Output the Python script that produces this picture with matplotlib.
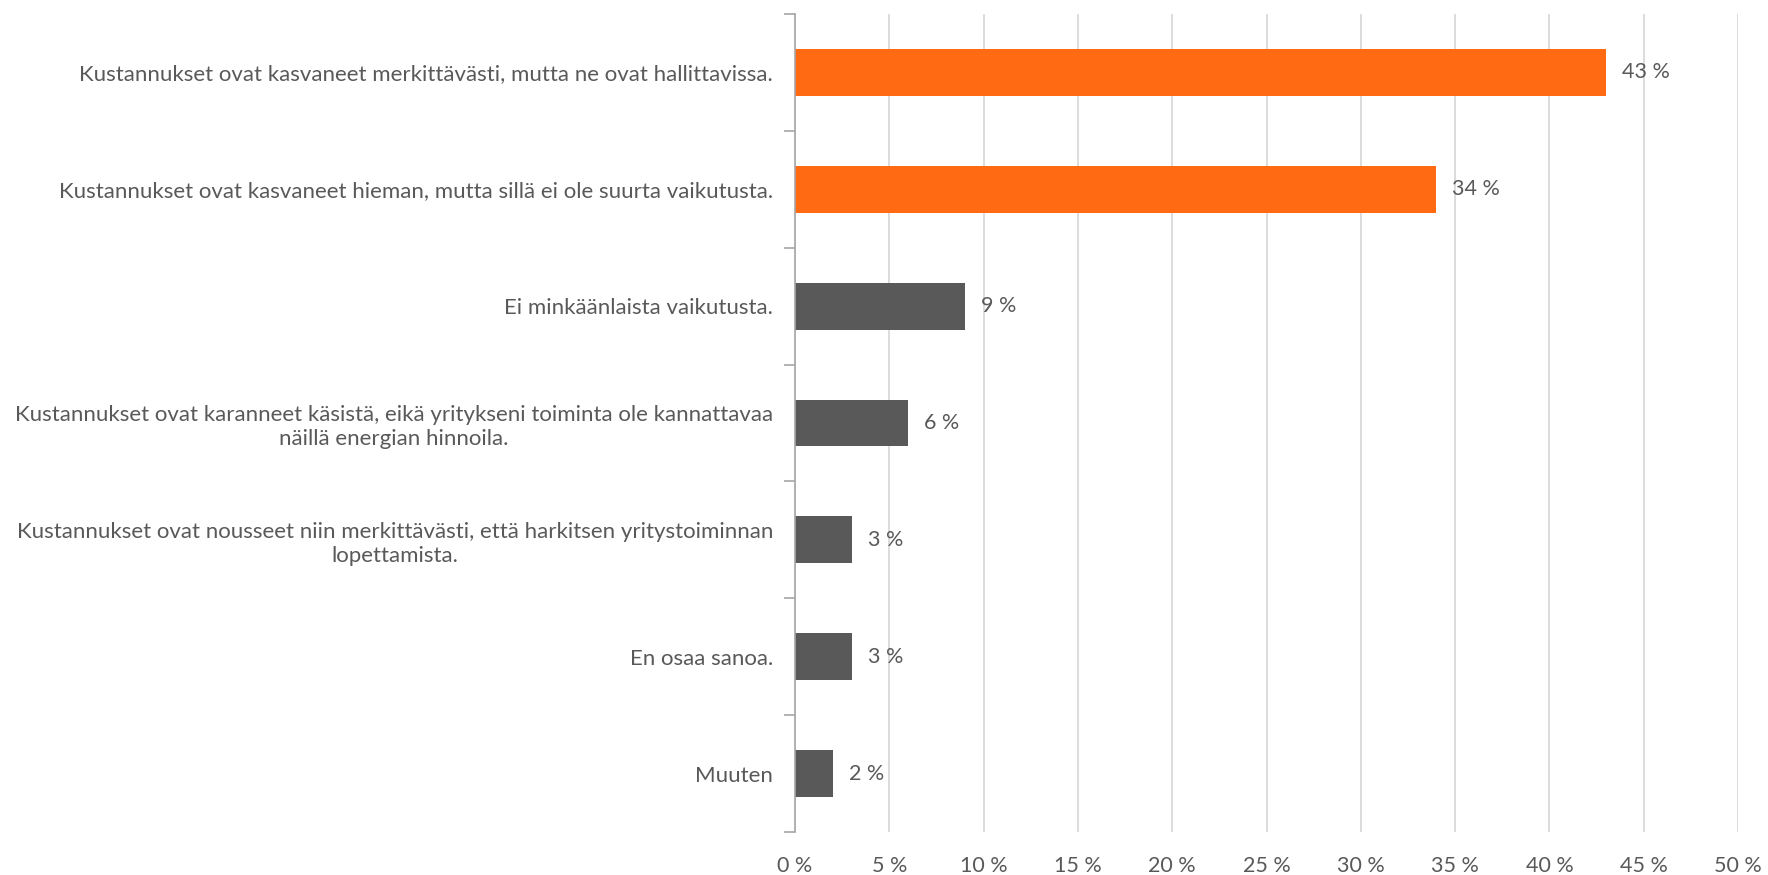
import matplotlib
matplotlib.use("Agg")
import matplotlib.pyplot as plt
import numpy as np

categories = [
    "Kustannukset ovat kasvaneet merkittävästi, mutta ne ovat hallittavissa.",
    "Kustannukset ovat kasvaneet hieman, mutta sillä ei ole suurta vaikutusta.",
    "Ei minkäänlaista vaikutusta.",
    "Kustannukset ovat karanneet käsistä, eikä yritykseni toiminta ole kannattavaa\nnäillä energian hinnoila.",
    "Kustannukset ovat nousseet niin merkittävästi, että harkitsen yritystoiminnan\nlopettamista.",
    "En osaa sanoa.",
    "Muuten",
]
values = [43, 34, 9, 6, 3, 3, 2]
highlight = [True, True, False, False, False, False, False]
xticks = [0, 5, 10, 15, 20, 25, 30, 35, 40, 45, 50]

ORANGE = "#FF6A13"
GREY_BAR = "#595959"
TEXT = "#595959"
GRID = "#D9D9D9"

plt.rcParams["font.family"] = ["Lato", "DejaVu Sans"]

fig = plt.figure(figsize=(17.68, 8.75), dpi=100)
ax = fig.add_axes([795 / 1768, 1 - 832 / 875, (1738 - 795) / 1768, (832 - 14) / 875])

n = len(categories)
ypos = np.arange(n)
colors = [ORANGE if h else GREY_BAR for h in highlight]
bars = ax.barh(ypos, values, height=0.4, color=colors, zorder=3)

ax.set_xlim(0, 50)
ax.set_ylim(n - 0.5, -0.5)

ax.set_xticks(xticks)
ax.set_xticklabels([f"{v} %" for v in xticks], fontsize=15.5, color=TEXT)
ax.tick_params(axis="x", length=0, pad=17)

ax.set_yticks(ypos)
ax.set_yticklabels(categories, fontsize=16, color=TEXT, ha="center",
                   multialignment="center", linespacing=1.25)
ax.tick_params(axis="y", length=0, pad=14)
# centre each label block on its own width so the right edges line up
fig.canvas.draw()
renderer = fig.canvas.get_renderer()
for lab in ax.get_yticklabels():
    w = lab.get_window_extent(renderer).width
    lab.set_x(0)
    lab.set_horizontalalignment("center")
    trans = matplotlib.transforms.offset_copy(
        ax.get_yaxis_transform(), fig=fig, x=-(22 + w / 2), y=0, units="dots")
    lab.set_transform(trans)

# category boundary ticks on the left spine
ax.set_yticks(np.arange(-0.5, n, 1.0), minor=True)
ax.tick_params(axis="y", which="minor", length=8, width=1.2, color="#A6A6A6")

ax.xaxis.grid(True, color=GRID, linewidth=1.3, zorder=0)
ax.yaxis.grid(False)
for side in ["top", "right", "bottom"]:
    ax.spines[side].set_visible(False)
ax.spines["left"].set_color("#A6A6A6")
ax.spines["left"].set_linewidth(1.2)
ax.spines["left"].set_zorder(4)

for b, v in zip(bars, values):
    ax.annotate(f"{v} %", xy=(b.get_width(), b.get_y() + b.get_height() / 2),
                xytext=(16, 0), textcoords="offset pixels", ha="left", va="center",
                fontsize=15.5, color=TEXT)

fig.savefig("out.png", dpi=100, facecolor="white")
